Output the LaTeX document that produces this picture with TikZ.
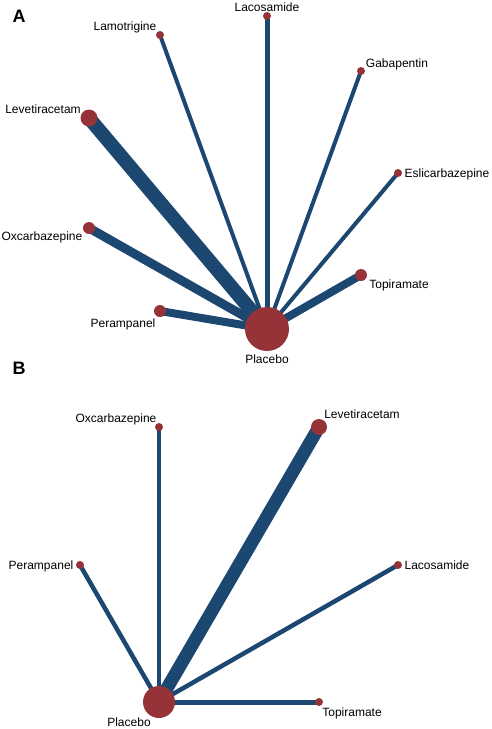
\documentclass[tikz,border=0pt]{standalone}
\usepackage{fontspec}
\setmainfont{Liberation Sans}
\usetikzlibrary{backgrounds}
\definecolor{edgeblue}{HTML}{1B4770}
\definecolor{nodered}{HTML}{953339}
\tikzset{
  drug/.style={circle, fill=nodered, inner sep=0pt},
  lbl/.style={anchor=base, font=\fontsize{12}{14}\selectfont, inner sep=0pt},
  panel/.style={font=\fontsize{18}{20}\selectfont\bfseries, inner sep=0pt},
  link/.style={edgeblue},
}
\begin{document}
\begin{tikzpicture}[x=1pt, y=-1pt]
\useasboundingbox (0,0) rectangle (491,729);
% panel A
\node[panel] (pA) at (19,16) {A};
\node[drug, minimum size=44pt] (aPla) at (267,329) {};
\node[drug, minimum size=8pt]  (aLac) at (267,16) {};
\node[drug, minimum size=8pt]  (aLam) at (160,35) {};
\node[drug, minimum size=8pt]  (aGab) at (361,71) {};
\node[drug, minimum size=17pt] (aLev) at (89,118) {};
\node[drug, minimum size=8pt]  (aEsl) at (398,173) {};
\node[drug, minimum size=12pt] (aOxc) at (89,228) {};
\node[drug, minimum size=12pt] (aTop) at (361,275) {};
\node[drug, minimum size=12pt] (aPer) at (160,311) {};
	\node[lbl] (tLac) at (267,11) {Lacosamide};
	\node[lbl] (tLam) at (125,30) {Lamotrigine};
	\node[lbl] (tGab) at (397,67) {Gabapentin};
	\node[lbl] (tLev) at (43,113) {Levetiracetam};
	\node[lbl] (tEsl) at (447,177) {Eslicarbazepine};
	\node[lbl] (tOxc) at (42,240) {Oxcarbazepine};
	\node[lbl] (tTop) at (399,288) {Topiramate};
	\node[lbl] (tPer) at (123,327) {Perampanel};
	\node[lbl] (tPla) at (267,363) {Placebo};
\begin{scope}[on background layer]
	\draw[link, line width=5pt]  (aPla.center) -- (aLac.center);
	\draw[link, line width=4pt]  (aPla.center) -- (aLam.center);
	\draw[link, line width=4pt]  (aPla.center) -- (aGab.center);
	\draw[link, line width=14pt] (aPla.center) -- (aLev.center);
	\draw[link, line width=4pt]  (aPla.center) -- (aEsl.center);
	\draw[link, line width=9pt]  (aPla.center) -- (aOxc.center);
	\draw[link, line width=8pt]  (aPla.center) -- (aTop.center);
	\draw[link, line width=8pt]  (aPla.center) -- (aPer.center);
\end{scope}
% panel B
\node[panel] (pB) at (19,368) {B};
\node[drug, minimum size=32pt] (bPla) at (159,702) {};
\node[drug, minimum size=8pt]  (bOxc) at (159,427) {};
\node[drug, minimum size=16pt] (bLev) at (319,427) {};
\node[drug, minimum size=8pt]  (bPer) at (80,565) {};
\node[drug, minimum size=8pt]  (bLac) at (398,565) {};
\node[drug, minimum size=8pt]  (bTop) at (319,702) {};
	\node[lbl] (uOxc) at (116,422) {Oxcarbazepine};
	\node[lbl] (uLev) at (362,418) {Levetiracetam};
	\node[lbl] (uPer) at (41,569) {Perampanel};
	\node[lbl] (uLac) at (437,569) {Lacosamide};
	\node[lbl] (uTop) at (352,716) {Topiramate};
	\node[lbl] (uPla) at (129,726) {Placebo};
\begin{scope}[on background layer]
	\draw[link, line width=4.5pt] (bPla.center) -- (bOxc.center);
	\draw[link, line width=13pt]  (bPla.center) -- (bLev.center);
	\draw[link, line width=4.5pt] (bPla.center) -- (bPer.center);
	\draw[link, line width=4.5pt] (bPla.center) -- (bLac.center);
	\draw[link, line width=5pt]   (bPla.center) -- (bTop.center);
\end{scope}
\end{tikzpicture}
\end{document}
